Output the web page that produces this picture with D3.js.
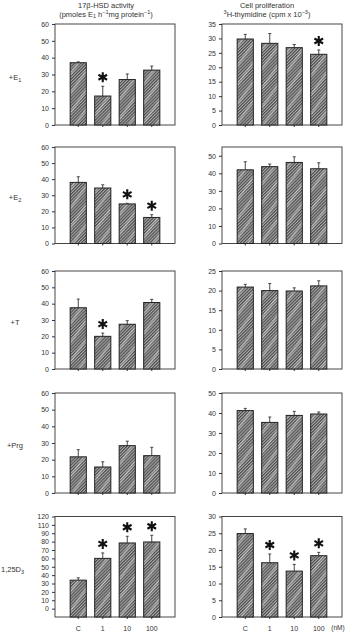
<!DOCTYPE html>
<html>
<head>
<meta charset="utf-8">
<script src="https://cdn.jsdelivr.net/npm/d3@7"></script>
<style>
  body { margin: 0; background: #fff; }
  svg text { font-family: "Liberation Sans", Arial, sans-serif; fill: #333; }
</style>
</head>
<body>
<svg id="chart" width="348" height="635"></svg>
<script>
// doses on the x axis
const doses = ["C", "1", "10", "100"];
// row labels (+ subscript)
const rowNames = ["+E", "+E", "+T", "+Prg", "1,25D"];
const rowSubs = ["1", "2", "", "", "3"];

// 17b-HSD activity: means, top of error bars, significance
const hsdMean = [[37, 17.2, 27, 32.6], [38, 34.5, 24.6, 16.2], [37.5, 20, 27.4, 40.7], [21.7, 15.6, 28.4, 22.4], [34, 60, 78.4, 79.6]];
const hsdErr  = [[37.5, 23, 30.3, 35], [41.5, 36.5, 25, 17.9], [42.8, 22, 29.6, 42.6], [26, 18.7, 31.1, 27.4], [36.8, 66.5, 86.4, 87.6]];
const hsdStar = [[0, 1, 0, 0], [0, 0, 1, 1], [0, 1, 0, 0], [0, 0, 0, 0], [0, 1, 1, 1]];
const hsdMin  = [0, 0, 0, 0, -10];
const hsdMax  = [60, 60, 60, 60, 110];
const hsdTicks = [d3.range(0, 61, 10), d3.range(0, 61, 10), d3.range(0, 61, 10), d3.range(0, 61, 10), d3.range(0, 111, 10)];
// the last panel's printed labels (as they appear in the figure)
const hsdTickLabels5 = ["0", "10", "20", "30", "40", "50", "60", "70", "80", "90", "110", "120"];

// cell proliferation
const prolMean = [[29.8, 28.3, 26.8, 24.5], [42, 43.8, 46.2, 42.6], [20.9, 20, 19.9, 21.2], [41.2, 35.3, 38.8, 39.5], [24.9, 16.2, 13.7, 18.3]];
const prolErr  = [[31.4, 31.7, 27.9, 26], [46.6, 45.3, 49.4, 46], [21.6, 21.8, 20.7, 22.5], [42.3, 38, 40.8, 40.5], [26.3, 18.8, 15.7, 19.3]];
const prolStar = [[0, 0, 0, 1], [0, 0, 0, 0], [0, 0, 0, 0], [0, 0, 0, 0], [0, 1, 1, 1]];
const prolMax  = [35, 55, 25, 50, 30];
const prolStep = [5, 10, 5, 10, 5];

const svg = d3.select("#chart");

// hatch pattern for the bars
let defs = svg.append("defs");
let pat = defs.append("pattern")
    .attr("id", "hatch")
    .attr("patternUnits", "userSpaceOnUse")
    .attr("width", 2.2).attr("height", 8)
    .attr("patternTransform", "rotate(45)");
pat.append("rect").attr("width", 2.2).attr("height", 8).attr("fill", "#ababab");
pat.append("line").attr("x1", 0.6).attr("x2", 0.6).attr("y1", 0).attr("y2", 8)
    .attr("stroke", "#3e3e3e").attr("stroke-width", 1);
let pat2 = defs.append("pattern")
    .attr("id", "streak")
    .attr("patternUnits", "userSpaceOnUse")
    .attr("width", 11).attr("height", 8)
    .attr("patternTransform", "rotate(35)");
pat2.append("rect").attr("x", 0).attr("width", 2.5).attr("height", 8)
    .attr("fill", "#fff").attr("opacity", 0.3);

// panel layout
const rowTop = [24, 147, 271, 393, 516.5];
const rowBot = [125, 243.5, 369, 493, 617];
const cols = [{x0: 55, x1: 175}, {x0: 222, x1: 342}];

function drawPanel(g, col, top, bot, means, errs, stars, ymin, ymax, ticks, tickFmt, showX) {
    let x = d3.scaleBand()
        .domain(doses)
        .range([col.x0 + 11, col.x1 - 11])
        .paddingInner(0.34)
        .paddingOuter(0.17);
    let y = d3.scaleLinear().domain([ymin, ymax]).range([bot, top]);
    let rows = doses.map((d, i) => ({dose: d, v: means[i], e: errs[i], s: stars[i]}));

    // frame
    g.append("rect")
        .attr("x", col.x0).attr("y", top)
        .attr("width", col.x1 - col.x0).attr("height", bot - top)
        .attr("fill", "none").attr("stroke", "#333").attr("stroke-width", 0.9);

    // y axis
    let yAxis = d3.axisLeft(y).tickValues(ticks).tickSize(3).tickPadding(3).tickFormat(tickFmt);
    let ya = g.append("g").attr("transform", `translate(${col.x0},0)`).call(yAxis);
    ya.select(".domain").remove();
    ya.selectAll("line").attr("stroke", "#333");
    ya.selectAll("text").attr("font-size", 7).attr("fill", "#333");

    // x axis
    let xAxis = d3.axisBottom(x).tickSize(2).tickPadding(7);
    let xa = g.append("g").attr("transform", `translate(0,${bot})`).call(xAxis);
    xa.select(".domain").remove();
    xa.selectAll("line").attr("stroke", "#333");
    xa.selectAll("text").attr("font-size", 7).attr("fill", "#333");
    if (!showX) xa.selectAll("text").remove();

    // error bars (upper only)
    let eb = g.selectAll(".err").data(rows).enter().append("g");
    eb.append("line")
        .attr("x1", d => x(d.dose) + x.bandwidth() / 2)
        .attr("x2", d => x(d.dose) + x.bandwidth() / 2)
        .attr("y1", d => y(d.v)).attr("y2", d => y(d.e))
        .attr("stroke", "#333").attr("stroke-width", 0.9);
    eb.append("line")
        .attr("x1", d => x(d.dose) + x.bandwidth() / 2 - 1.5)
        .attr("x2", d => x(d.dose) + x.bandwidth() / 2 + 1.5)
        .attr("y1", d => y(d.e)).attr("y2", d => y(d.e))
        .attr("stroke", "#333").attr("stroke-width", 0.9);

    // bars
    g.selectAll(".bar").data(rows).enter().append("rect")
        .attr("x", d => x(d.dose)).attr("width", x.bandwidth())
        .attr("y", d => y(d.v)).attr("height", d => y(ymin) - y(d.v))
        .attr("fill", "url(#hatch)");
    g.selectAll(".bar2").data(rows).enter().append("rect")
        .attr("x", d => x(d.dose)).attr("width", x.bandwidth())
        .attr("y", d => y(d.v)).attr("height", d => y(ymin) - y(d.v))
        .attr("fill", "url(#streak)")
        .attr("stroke", "#222").attr("stroke-width", 1);

    // significance stars
    g.selectAll(".star").data(rows.filter(d => d.s)).enter().append("path")
        .attr("d", d3.symbol(d3.symbolAsterisk, 70))
        .attr("transform", d => `translate(${x(d.dose) + x.bandwidth() / 2},${y(d.e) - 9})`)
        .attr("fill", "none").attr("stroke", "#111").attr("stroke-width", 2.1);
}

for (let r = 0; r < 5; r++) {
    let last = r === 4;
    let fmtL = last ? ((d, i) => hsdTickLabels5[i]) : (d => d);
    drawPanel(svg.append("g"), cols[0], rowTop[r], rowBot[r], hsdMean[r], hsdErr[r], hsdStar[r],
        hsdMin[r], hsdMax[r], hsdTicks[r], fmtL, last);
    let pt = d3.range(0, prolMax[r] + 0.01, prolStep[r]);
    drawPanel(svg.append("g"), cols[1], rowTop[r], rowBot[r], prolMean[r], prolErr[r], prolStar[r],
        0, prolMax[r], pt, d => d, last);

    // row label
    let lab = svg.append("text")
        .attr("x", last ? 1 : 15).attr("y", (rowTop[r] + rowBot[r]) / 2 + 5)
        .attr("text-anchor", last ? "start" : "middle").attr("font-size", 7.5);
    lab.append("tspan").text(rowNames[r]);
    if (rowSubs[r]) lab.append("tspan").attr("font-size", 5.5).attr("dy", 2).text(rowSubs[r]);
}

// (nM) unit label
svg.append("text").attr("x", 338).attr("y", 630).attr("text-anchor", "middle")
    .attr("font-size", 6.5).text("(nM)");

// column titles
let t1 = svg.append("text").attr("x", 106).attr("y", 8).attr("text-anchor", "middle").attr("font-size", 7.5);
t1.text("17\u03b2-HSD activity");
let t2 = svg.append("text").attr("x", 106).attr("y", 16.5).attr("text-anchor", "middle").attr("font-size", 7.5);
t2.append("tspan").text("(pmoles E");
t2.append("tspan").attr("font-size", 5.5).attr("dy", 1.5).text("1");
t2.append("tspan").attr("dy", -1.5).text(" h");
t2.append("tspan").attr("font-size", 5.5).attr("dy", -3).text("\u22121");
t2.append("tspan").attr("dy", 3).text("mg protein");
t2.append("tspan").attr("font-size", 5.5).attr("dy", -3).text("\u22121");
t2.append("tspan").attr("dy", 3).text(")");

let t3 = svg.append("text").attr("x", 267).attr("y", 8).attr("text-anchor", "middle").attr("font-size", 7.5);
t3.text("Cell proliferation");
let t4 = svg.append("text").attr("x", 267).attr("y", 16.5).attr("text-anchor", "middle").attr("font-size", 7.5);
t4.append("tspan").attr("font-size", 5.5).attr("dy", -3).text("3");
t4.append("tspan").attr("dy", 3).text("H-thymidine (cpm x 10");
t4.append("tspan").attr("font-size", 5.5).attr("dy", -3).text("\u22123");
t4.append("tspan").attr("dy", 3).text(")");
</script>
</body>
</html>
